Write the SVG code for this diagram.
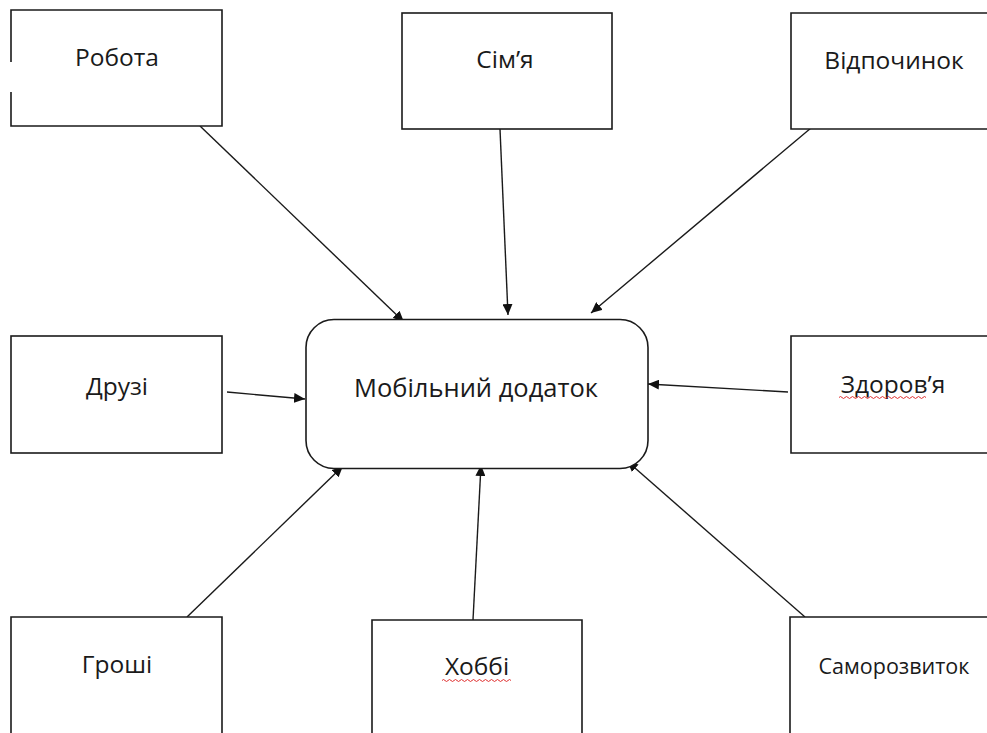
<svg xmlns="http://www.w3.org/2000/svg" width="987" height="733" viewBox="0 0 987 733">
<style>
.box{fill:#fff;stroke:#1a1a1a;stroke-width:1.6}
.lbl{font-family:"Open Sans","Liberation Sans",sans-serif;font-size:24.5px;fill:#1a1a1a;text-anchor:middle}
.sm{font-size:21.5px}
.big{font-size:25.5px}
.con{stroke:#1a1a1a;stroke-width:1.4;fill:none;marker-end:url(#ah)}
.sq{stroke:#e03030;stroke-width:1;fill:none}
</style>
<defs>
<marker id="ah" markerUnits="userSpaceOnUse" markerWidth="12" markerHeight="10" refX="11" refY="5" orient="auto">
<path d="M0,0 L11,5 L0,10 z" fill="#111"/>
</marker>
</defs>
<rect width="987" height="733" fill="#fff"/>
<g id="connectors">
<line class="con" x1="200" y1="126" x2="404" y2="322"/>
<line class="con" x1="500" y1="129" x2="508" y2="315"/>
<line class="con" x1="811" y1="128" x2="591" y2="313"/>
<line class="con" x1="227" y1="392" x2="305" y2="399"/>
<line class="con" x1="788" y1="392" x2="648" y2="384"/>
<line class="con" x1="187" y1="617" x2="343" y2="466"/>
<line class="con" x1="473" y1="620" x2="481" y2="465"/>
<line class="con" x1="805" y1="617" x2="627" y2="461"/>
</g>
<g id="node-app">
<rect class="box" x="306" y="319.5" width="342" height="149" rx="28" ry="28"/>
<text class="lbl big" x="476" y="397">Мобільний додаток</text>
</g>
<g id="node-robota">
<path class="box" d="M11,62 V10 H222 V126 H11 V92" fill="none"/>
<text class="lbl" x="117" y="66">Робота</text>
</g>
<g id="node-simya">
<rect class="box" x="402" y="13" width="210" height="116"/>
<text class="lbl" x="505" y="68">Сім’я</text>
</g>
<g id="node-vidpochynok">
<path class="box" d="M990,13 H791 V129 H990"/>
<text class="lbl" x="894" y="69">Відпочинок</text>
</g>
<g id="node-druzi">
<rect class="box" x="11" y="336" width="211" height="117"/>
<text class="lbl" x="117" y="395">Друзі</text>
</g>
<g id="node-zdorovya">
<path class="box" d="M990,336 H791 V453 H990"/>
<text class="lbl" x="893" y="393">Здоров’я</text>
<path class="sq" d="M839,397.5 q1.5,-2 3,0 t3,0 t3,0 t3,0 t3,0 t3,0 t3,0 t3,0 t3,0 t3,0 t3,0 t3,0 t3,0 t3,0 t3,0 t3,0 t3,0 t3,0 t3,0 t3,0 t3,0 t3,0 t3,0 t3,0 t3,0 t3,0 t3,0 t3,0 t3,0"/>
</g>
<g id="node-groshi">
<path class="box" d="M11,740 V617 H222 V740"/>
<text class="lbl" x="117" y="673">Гроші</text>
</g>
<g id="node-hobbi">
<path class="box" d="M372,740 V620 H582 V740"/>
<text class="lbl" x="477" y="675">Хоббі</text>
<path class="sq" d="M442,680.5 q1.5,-2 3,0 t3,0 t3,0 t3,0 t3,0 t3,0 t3,0 t3,0 t3,0 t3,0 t3,0 t3,0 t3,0 t3,0 t3,0 t3,0 t3,0 t3,0 t3,0 t3,0 t3,0 t3,0 t3,0"/>
</g>
<g id="node-samorozvytok">
<path class="box" d="M990,617 H790 V740"/>
<text class="lbl sm" x="894" y="674">Саморозвиток</text>
</g>
</svg>
